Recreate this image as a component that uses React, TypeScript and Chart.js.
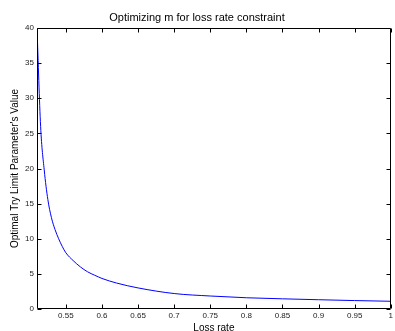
import React, { useEffect, useRef } from "react";
import { Chart, registerables } from "chart.js";

Chart.register(...registerables);

const lossRate = [0.51, 0.515, 0.52, 0.525, 0.53, 0.535, 0.54, 0.545, 0.55, 0.56, 0.57, 0.58, 0.59, 0.6, 0.62, 0.65, 0.7, 0.75, 0.8, 0.85, 0.9, 0.95, 1.0];
const tryLimit = [40, 26, 19.8, 15.6, 13.0, 11.3, 10.0, 8.9, 8.0, 6.9, 6.0, 5.3, 4.8, 4.35, 3.7, 3.0, 2.2, 1.85, 1.6, 1.45, 1.32, 1.2, 1.1];
const xTickValues = [0.55, 0.6, 0.65, 0.7, 0.75, 0.8, 0.85, 0.9, 0.95, 1];
const yTickValues = [0, 5, 10, 15, 20, 25, 30, 35, 40];

const titleText = "Optimizing m for loss rate constraint";
const xLabel = "Loss rate";
const yLabel = "Optimal Try Limit Parameter's Value";

const FONT = "'Liberation Sans', Arial, Helvetica, sans-serif";

const boxPlugin = {
  id: "matlabBox",
  afterDraw(chart: any) {
    const { ctx, chartArea } = chart;
    const { left, right, top, bottom } = chartArea;
    const xs = chart.scales.x;
    const ys = chart.scales.y;
    const L = Math.round(left) + 0.5;
    const R = Math.round(right) - 0.5;
    const T = Math.round(top) + 0.5;
    const B = Math.round(bottom) - 0.5;
    const tl = 4;
    ctx.save();
    ctx.strokeStyle = "#000";
    ctx.lineWidth = 1;
    ctx.beginPath();
    ctx.rect(L, T, R - L, B - T);
    xs.ticks.forEach((t: any) => {
      const px = Math.round(xs.getPixelForValue(t.value)) + 0.5;
      ctx.moveTo(px, B);
      ctx.lineTo(px, B - tl);
      ctx.moveTo(px, T);
      ctx.lineTo(px, T + tl);
    });
    ys.ticks.forEach((t: any) => {
      const py = Math.round(ys.getPixelForValue(t.value)) + 0.5;
      ctx.moveTo(L, py);
      ctx.lineTo(L + tl, py);
      ctx.moveTo(R, py);
      ctx.lineTo(R - tl, py);
    });
    ctx.stroke();
    ctx.restore();
  },
};

function fmt(v: number) {
  return String(Number(v.toFixed(2)));
}

export default function App() {
  const ref = useRef<HTMLCanvasElement | null>(null);
  useEffect(() => {
    if (!ref.current) return;
    const chart = new Chart(ref.current, {
      type: "line",
      data: {
        datasets: [
          {
            data: lossRate.map((x, i) => ({ x, y: tryLimit[i] })),
            borderColor: "#0000ff",
            borderWidth: 1,
            pointRadius: 0,
            cubicInterpolationMode: "monotone",
            fill: false,
          },
        ],
      },
      options: {
        animation: false,
        responsive: false,
        maintainAspectRatio: false,
        layout: { padding: { left: 0, right: 1, top: 0, bottom: 0 } },
        plugins: {
          legend: { display: false },
          tooltip: { enabled: false },
          title: {
            display: true,
            text: titleText,
            color: "#000",
            font: { family: FONT, size: 11, weight: "normal", lineHeight: 1.2 },
            padding: { top: 11, bottom: 3.8 },
          },
        },
        scales: {
          x: {
            type: "linear",
            min: 0.51,
            max: 1,
            grid: { display: false, drawTicks: false },
            border: { display: false },
            afterBuildTicks: (s: any) => {
              s.ticks = xTickValues.map((v) => ({ value: v }));
            },
            afterFit: (s: any) => {
              s.height = 22;
            },
            ticks: {
              color: "#222",
              font: { family: FONT, size: 8 },
              padding: 2,
              maxRotation: 0,
              autoSkip: false,
              callback: (v: any) => fmt(Number(v)),
            },
            title: {
              display: true,
              text: xLabel,
              color: "#000",
              font: { family: FONT, size: 10, lineHeight: 1 },
              padding: { top: 0, bottom: -2 },
            },
          },
          y: {
            type: "linear",
            min: 0,
            max: 40,
            grid: { display: false, drawTicks: false },
            border: { display: false },
            afterBuildTicks: (s: any) => {
              s.ticks = yTickValues.map((v) => ({ value: v }));
            },
            afterFit: (s: any) => {
              s.width = 37;
            },
            ticks: {
              color: "#222",
              font: { family: FONT, size: 8 },
              padding: 3,
              autoSkip: false,
              callback: (v: any) => fmt(Number(v)),
            },
            title: {
              display: true,
              text: yLabel,
              color: "#000",
              font: { family: FONT, size: 10, lineHeight: 1.2 },
              padding: { top: 9, bottom: 0 },
            },
          },
        },
      },
      plugins: [boxPlugin],
    } as any);
    return () => chart.destroy();
  }, []);
  return (
    <div style={{ position: "fixed", left: 0, top: 0, width: 395, height: 331, background: "#fff" }}>
      <canvas ref={ref} width={395} height={331} style={{ width: 395, height: 331, display: "block" }} />
    </div>
  );
}
